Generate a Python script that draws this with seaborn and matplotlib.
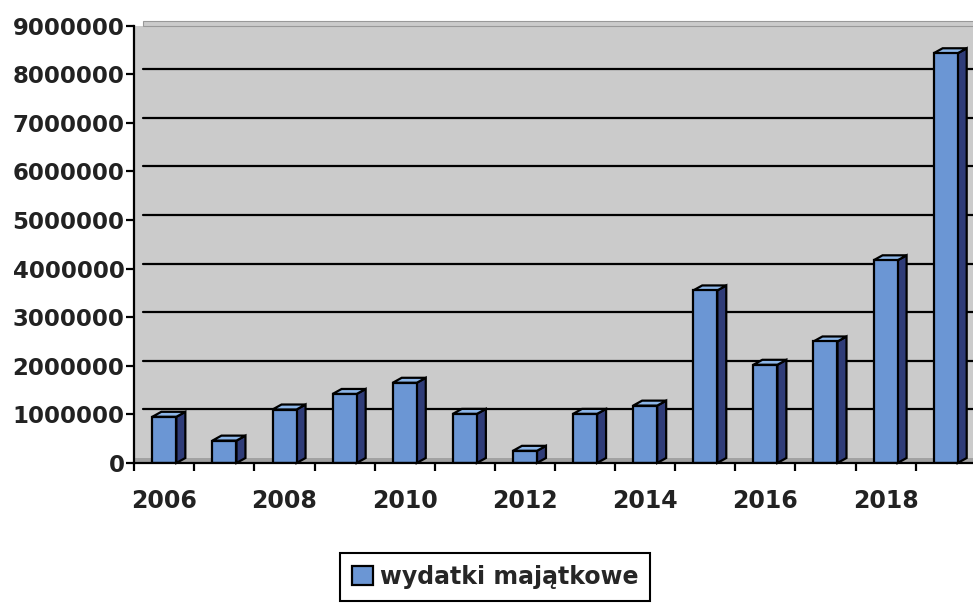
import numpy as np
import pandas as pd
import seaborn as sns
import matplotlib.pyplot as plt
from matplotlib.patches import Polygon, Patch, Rectangle
from matplotlib import transforms

# Data
years = list(range(2006, 2020))
wydatki = [950000, 460000, 1100000, 1420000, 1650000, 1010000, 250000,
           1010000, 1180000, 3550000, 2020000, 2500000, 4170000, 8430000]
yticks = list(range(0, 9000001, 1000000))
xlabels = [str(y) if y % 2 == 0 else "" for y in years]
legend_label = "wydatki majątkowe"

# Colours
front_col = "#6b96d4"
side_col = "#2f3c78"
top_col = "#8db6e8"
wall_col = "#cbcbcb"
floor_col = "#a2a2a2"

sns.set_style("white")
plt.rcParams["font.family"] = ["DejaVu Sans"]

fig = plt.figure(figsize=(9.73, 6.03), dpi=100)
ax = fig.add_axes([0.138, 0.2322, 0.8648, 0.7254])
ax.set_facecolor(wall_col)

df = pd.DataFrame({"rok": [str(y) for y in years], "wartosc": wydatki})
sns.barplot(data=df, x="rok", y="wartosc", color=front_col, saturation=1,
            width=0.4, edgecolor="black", linewidth=1.6, ax=ax, zorder=4)
bars = list(ax.patches)

ax.set_xlim(-0.5, 13.5)
ax.set_ylim(0, 9000000)

# depth of the fake 3D effect (pixels -> data units)
depth_x_px, depth_y_px = 9, 5
ax_w_px = fig.get_figwidth() * fig.dpi * 0.8648
ax_h_px = fig.get_figheight() * fig.dpi * 0.7254
ddx = depth_x_px / ax_w_px * 14
ddy = depth_y_px / ax_h_px * 9000000

# floor
ax.axhspan(0, ddy, color=floor_col, zorder=1, lw=0)

# back wall gridlines, shifted up by the depth
off = transforms.ScaledTranslation(0, depth_y_px / fig.dpi, fig.dpi_scale_trans)
for v in yticks[1:-1]:
    gl = ax.axhline(v, xmin=depth_x_px / ax_w_px, color="black", lw=1.6, zorder=2)
    gl.set_transform(gl.get_transform() + off)

# wall top edge above the last tick
ax.add_patch(Rectangle((depth_x_px / ax_w_px, 1.0), 1, depth_y_px / ax_h_px,
                       transform=ax.transAxes, facecolor=wall_col,
                       edgecolor="#999999", lw=0.8, clip_on=False, zorder=0))

# side and top faces of bars
for p in bars:
    x0, w, h = p.get_x(), p.get_width(), p.get_height()
    side = Polygon([(x0 + w, 0), (x0 + w + ddx, ddy), (x0 + w + ddx, h + ddy), (x0 + w, h)],
                   closed=True, facecolor=side_col, edgecolor="black", lw=1.6, zorder=3,
                   clip_on=False)
    top = Polygon([(x0, h), (x0 + ddx, h + ddy), (x0 + w + ddx, h + ddy), (x0 + w, h)],
                  closed=True, facecolor=top_col, edgecolor="black", lw=1.6, zorder=3,
                  clip_on=False)
    ax.add_patch(side)
    ax.add_patch(top)

# axes styling
ax.set_xlabel("")
ax.set_ylabel("")
ax.set_xticks(range(len(years)))
ax.set_xticklabels(xlabels, fontsize=17, fontweight="bold", color="#222222")
ax.set_xticks(np.arange(-0.5, len(years), 1), minor=True)
ax.tick_params(axis="x", which="major", length=0, pad=19)
ax.tick_params(axis="x", which="minor", bottom=True, length=6, width=1.6,
               color="black", direction="out")
ax.set_yticks(yticks)
ax.set_yticklabels([str(v) for v in yticks], fontsize=16.5, fontweight="bold",
                   color="#222222")
ax.tick_params(axis="y", left=True, length=6, width=1.6, color="black", pad=1)

for s in ["top", "right"]:
    ax.spines[s].set_visible(False)
for s in ["left", "bottom"]:
    ax.spines[s].set_color("black")
    ax.spines[s].set_linewidth(1.6)
    ax.spines[s].set_zorder(5)

# legend
handle = Patch(facecolor=front_col, edgecolor="black", lw=1.6, label=legend_label)
leg = fig.legend(handles=[handle], loc="upper center", bbox_to_anchor=(0.5087, 0.083),
                 prop={"weight": "bold", "size": 17}, frameon=True, fancybox=False,
                 edgecolor="black", handlelength=0.9, handleheight=0.9,
                 handletextpad=0.3, borderpad=0.5, borderaxespad=0)
leg.get_frame().set_linewidth(1.5)
leg.get_frame().set_alpha(1)

fig.savefig("out.png", dpi=100)
